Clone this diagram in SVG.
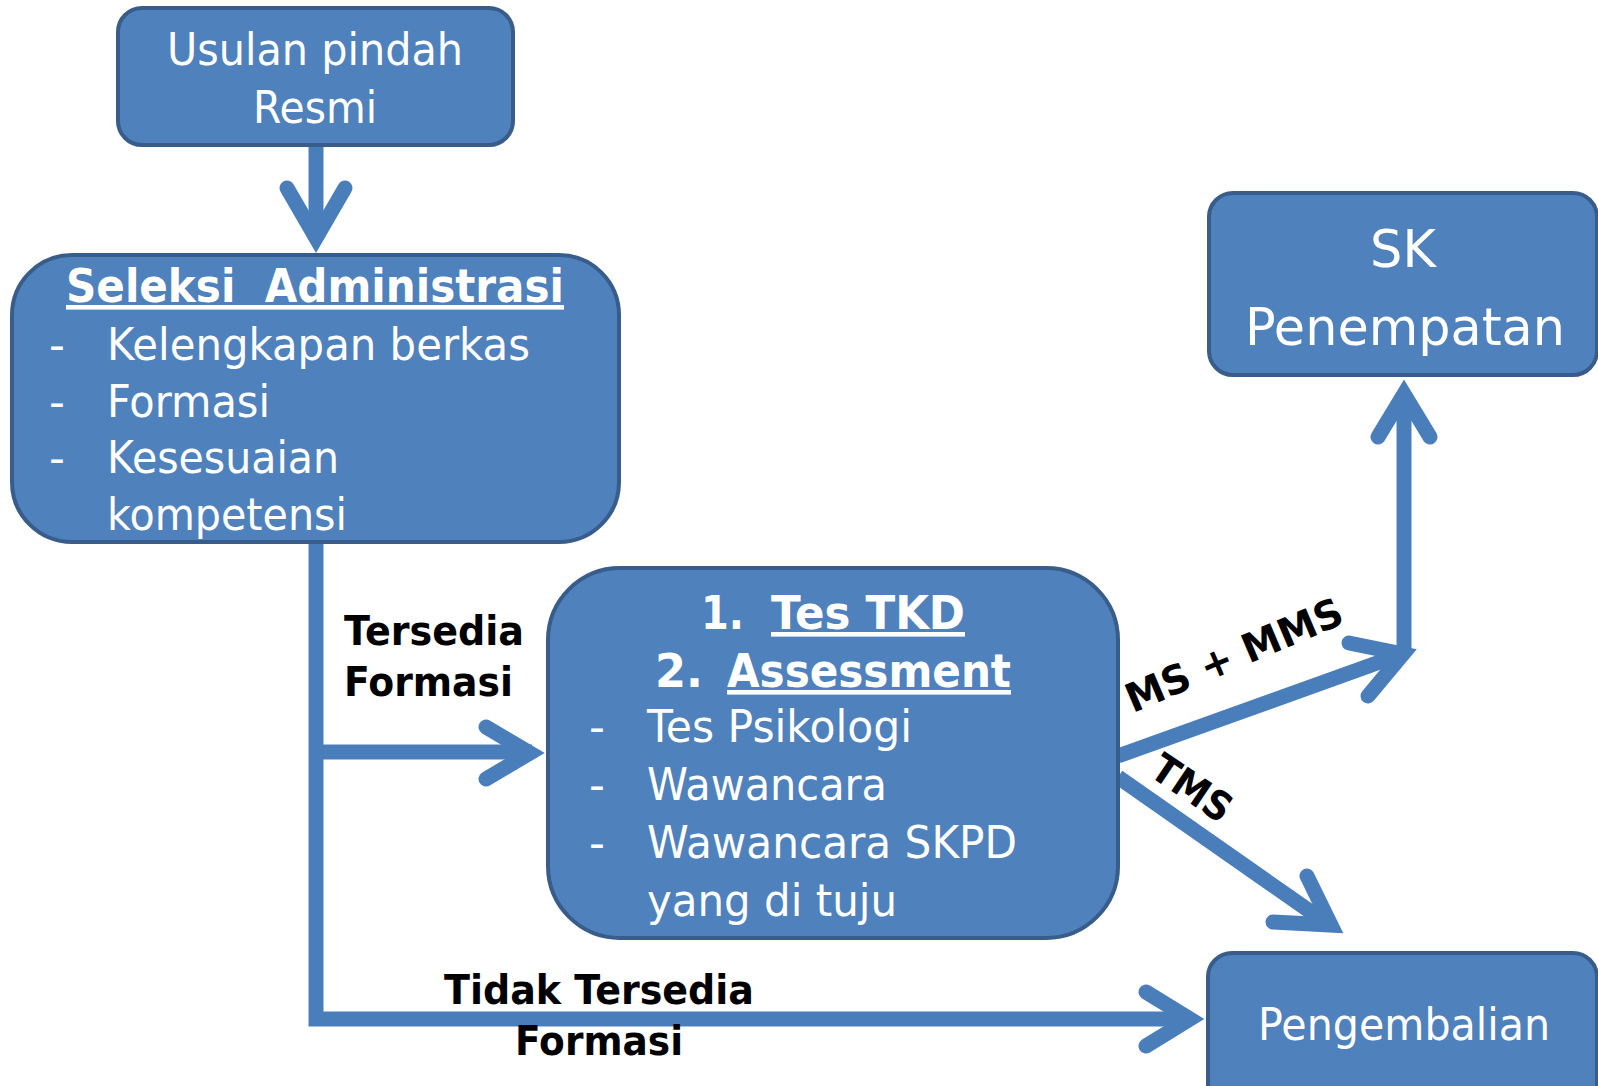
<svg xmlns="http://www.w3.org/2000/svg" width="1598" height="1086" viewBox="0 0 1598 1086">
<style>
.box{fill:#4F81BD;stroke:#385D8A;stroke-width:4}
.wt{fill:#FFFFFF;font-family:"DejaVu Sans","Liberation Sans",sans-serif}
.b{font-weight:bold}
.u{text-decoration:underline}
.lbl{fill:#000000;font-family:"DejaVu Sans","Liberation Sans",sans-serif;font-weight:bold}
.ln{fill:none;stroke:#4A7EBB;stroke-width:15}
.hd{fill:none;stroke:#4A7EBB;stroke-width:15;stroke-linecap:round;stroke-linejoin:miter;stroke-miterlimit:10}
</style>
<rect width="1598" height="1086" fill="#FFFFFF"/>
<g id="connectors">
  <path class="ln" d="M316,145 V240"/>
  <polyline class="hd" points="287,188 316,238 345,188"/>
  <path class="ln" d="M316,542 V1019 H1192" stroke-linejoin="miter"/>
  <path class="ln" d="M316,752 H532"/>
  <polyline class="hd" points="486,727 530,753 486,779"/>
  <polyline class="hd" points="1146,992 1190,1019 1146,1046"/>
  <path class="ln" d="M1118,756 L1402,654"/>
  <polyline class="hd" points="1349,643 1403,654 1368,696"/>
  <path class="ln" d="M1404,652 V400"/>
  <polyline class="hd" points="1378,437 1404,394 1430,437"/>
  <path class="ln" d="M1118,777 L1331,926"/>
  <polyline class="hd" points="1307,876 1331,925 1273,922"/>
  <text class="lbl" font-size="40" x="344" y="645" textLength="180" lengthAdjust="spacingAndGlyphs">Tersedia</text>
  <text class="lbl" font-size="40" x="344" y="696" textLength="169" lengthAdjust="spacingAndGlyphs">Formasi</text>
  <text class="lbl" font-size="40" x="444" y="1004" textLength="310" lengthAdjust="spacingAndGlyphs">Tidak Tersedia</text>
  <text class="lbl" font-size="40" x="515" y="1055" textLength="168" lengthAdjust="spacingAndGlyphs">Formasi</text>
  <text class="lbl" font-size="40" transform="translate(1234,655) rotate(-23)" x="-116" y="14" textLength="232" lengthAdjust="spacingAndGlyphs">MS + MMS</text>
  <text class="lbl" font-size="40" transform="translate(1192,788) rotate(34)" x="-44" y="14" textLength="88" lengthAdjust="spacingAndGlyphs">TMS</text>
</g>
<g id="node-usulan">
  <rect class="box" x="118" y="8" width="395" height="137" rx="24"/>
  <text class="wt" font-size="45" x="167" y="65" textLength="296" lengthAdjust="spacingAndGlyphs">Usulan pindah</text>
  <text class="wt" font-size="45" x="253" y="123" textLength="124" lengthAdjust="spacingAndGlyphs">Resmi</text>
</g>
<g id="node-seleksi">
  <rect class="box" x="12" y="255" width="607" height="287" rx="60"/>
  <text class="wt b u" font-size="46" x="66" y="302" textLength="498" lengthAdjust="spacingAndGlyphs" style="white-space:pre">Seleksi  Administrasi</text>
  <text class="wt" font-size="44" x="49" y="360">-</text>
  <text class="wt" font-size="44" x="107" y="360" textLength="423" lengthAdjust="spacingAndGlyphs">Kelengkapan berkas</text>
  <text class="wt" font-size="44" x="49" y="417">-</text>
  <text class="wt" font-size="44" x="107" y="417" textLength="163" lengthAdjust="spacingAndGlyphs">Formasi</text>
  <text class="wt" font-size="44" x="49" y="473">-</text>
  <text class="wt" font-size="44" x="107" y="473" textLength="232" lengthAdjust="spacingAndGlyphs">Kesesuaian</text>
  <text class="wt" font-size="44" x="107" y="530" textLength="240" lengthAdjust="spacingAndGlyphs">kompetensi</text>
</g>
<g id="node-tes">
  <rect class="box" x="548" y="568" width="570" height="370" rx="72"/>
  <text class="wt b" font-size="46" x="701" y="629" textLength="43" lengthAdjust="spacingAndGlyphs">1.</text>
  <text class="wt b u" font-size="46" x="771" y="629" textLength="194" lengthAdjust="spacingAndGlyphs">Tes TKD</text>
  <text class="wt b" font-size="46" x="655" y="687" textLength="48" lengthAdjust="spacingAndGlyphs">2.</text>
  <text class="wt b u" font-size="46" x="727" y="687" textLength="284" lengthAdjust="spacingAndGlyphs">Assessment</text>
  <text class="wt" font-size="44" x="589" y="742">-</text>
  <text class="wt" font-size="44" x="647" y="742" textLength="265" lengthAdjust="spacingAndGlyphs">Tes Psikologi</text>
  <text class="wt" font-size="44" x="589" y="800">-</text>
  <text class="wt" font-size="44" x="647" y="800" textLength="240" lengthAdjust="spacingAndGlyphs">Wawancara</text>
  <text class="wt" font-size="44" x="589" y="858">-</text>
  <text class="wt" font-size="44" x="647" y="858" textLength="370" lengthAdjust="spacingAndGlyphs">Wawancara SKPD</text>
  <text class="wt" font-size="44" x="647" y="916" textLength="250" lengthAdjust="spacingAndGlyphs">yang di tuju</text>
</g>
<g id="node-sk">
  <rect class="box" x="1209" y="193" width="388" height="182" rx="24"/>
  <text class="wt" font-size="51" x="1403" y="267" text-anchor="middle">SK</text>
  <text class="wt" font-size="51" x="1245" y="345" textLength="320" lengthAdjust="spacingAndGlyphs">Penempatan</text>
</g>
<g id="node-pengembalian">
  <rect class="box" x="1208" y="953" width="389" height="160" rx="24"/>
  <text class="wt" font-size="45" x="1258" y="1040" textLength="292" lengthAdjust="spacingAndGlyphs">Pengembalian</text>
</g>
</svg>
